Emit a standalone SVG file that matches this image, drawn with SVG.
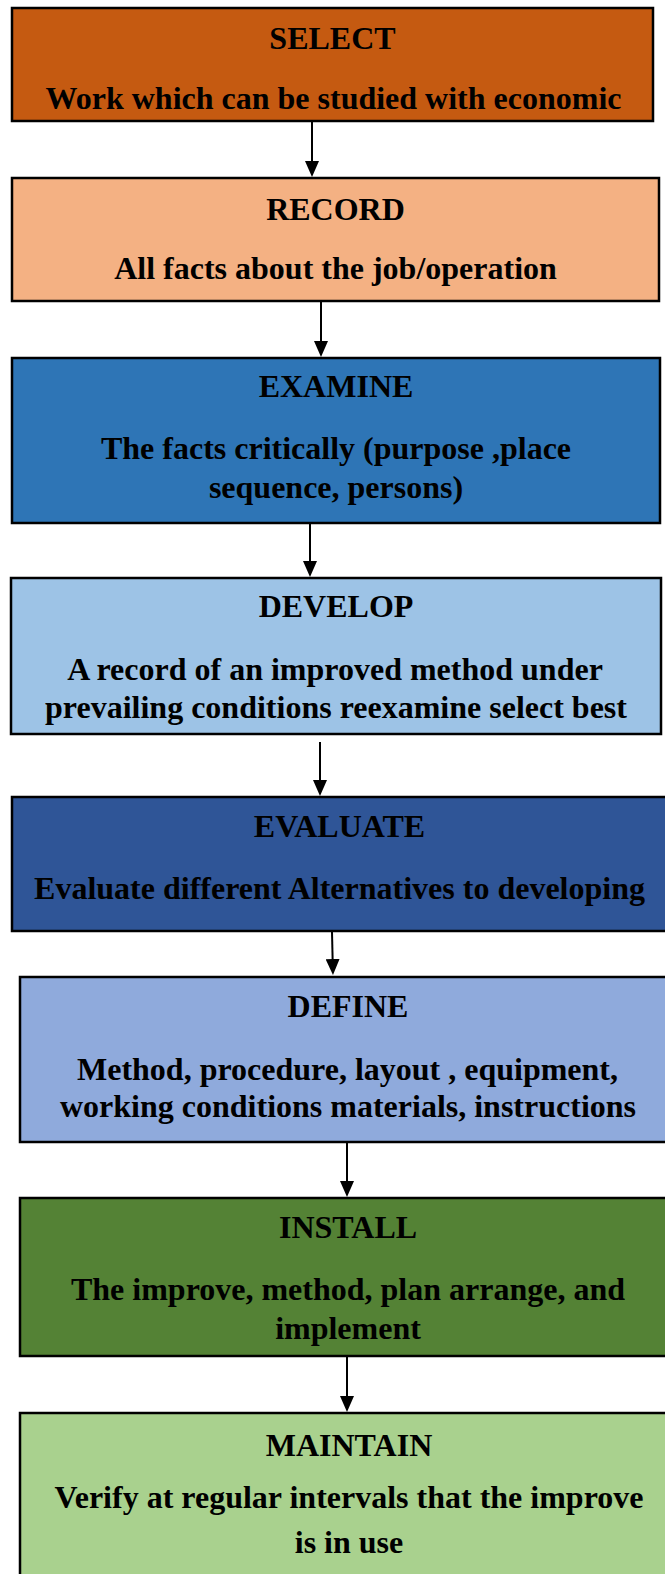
<svg xmlns="http://www.w3.org/2000/svg" width="665" height="1574" viewBox="0 0 665 1574">
<style>
.box{stroke:#000;stroke-width:2.5}
.t{font-family:"Liberation Serif","Times New Roman",serif;font-weight:bold;font-size:32px;fill:#000;text-anchor:middle}
.c{stroke:#000;stroke-width:2;fill:none}
</style>
<defs>
<marker id="ah" viewBox="0 0 16 14" refX="8" refY="7" markerWidth="16" markerHeight="14" markerUnits="userSpaceOnUse" orient="auto">
<path d="M0,0 L16,7 L0,14 z" fill="#000"/>
</marker>
</defs>
<rect width="665" height="1574" fill="#fff"/>
<g id="select">
<rect class="box" x="12" y="8" width="641" height="113" fill="#C55A11"/>
<text class="t" x="332.5" y="49">SELECT</text>
<text class="t" x="333.5" y="109">Work which can be studied with economic</text>
</g>
<g id="record">
<rect class="box" x="12" y="178" width="647" height="123" fill="#F4B183"/>
<text class="t" x="335.5" y="220">RECORD</text>
<text class="t" x="335.5" y="279">All facts about the job/operation</text>
</g>
<g id="examine">
<rect class="box" x="12" y="358" width="648" height="165" fill="#2E75B6"/>
<text class="t" x="336" y="397">EXAMINE</text>
<text class="t" x="336" y="459">The facts critically (purpose ,place</text>
<text class="t" x="336" y="498">sequence, persons)</text>
</g>
<g id="develop">
<rect class="box" x="11" y="578" width="650" height="156" fill="#9DC3E6"/>
<text class="t" x="336" y="617">DEVELOP</text>
<text class="t" x="335" y="680">A record of an improved method under</text>
<text class="t" x="336" y="718">prevailing conditions reexamine select best</text>
</g>
<g id="evaluate">
<rect class="box" x="12" y="797" width="655" height="134" fill="#2F5597"/>
<text class="t" x="339.5" y="837">EVALUATE</text>
<text class="t" x="339.5" y="899">Evaluate different Alternatives to developing</text>
</g>
<g id="define">
<rect class="box" x="20" y="977" width="656" height="165" fill="#8FAADC"/>
<text class="t" x="348" y="1017">DEFINE</text>
<text class="t" x="347.5" y="1080">Method, procedure, layout , equipment,</text>
<text class="t" x="348" y="1117">working conditions materials, instructions</text>
</g>
<g id="install">
<rect class="box" x="20" y="1198" width="656" height="158" fill="#548235"/>
<text class="t" x="348" y="1238">INSTALL</text>
<text class="t" x="348" y="1300">The improve, method, plan arrange, and</text>
<text class="t" x="348" y="1339">implement</text>
</g>
<g id="maintain">
<rect class="box" x="20" y="1413" width="658" height="175" fill="#A9D18E"/>
<text class="t" x="349" y="1456">MAINTAIN</text>
<text class="t" x="349" y="1508">Verify at regular intervals that the improve</text>
<text class="t" x="349" y="1553">is in use</text>
</g>
<g id="connectors">
<line class="c" x1="312" y1="122" x2="312" y2="169" marker-end="url(#ah)"/>
<line class="c" x1="321" y1="302" x2="321" y2="349" marker-end="url(#ah)"/>
<line class="c" x1="310" y1="524" x2="310" y2="569" marker-end="url(#ah)"/>
<line class="c" x1="320" y1="742" x2="320" y2="788" marker-end="url(#ah)"/>
<line class="c" x1="332" y1="932" x2="332.8" y2="967" marker-end="url(#ah)"/>
<line class="c" x1="347" y1="1143" x2="347" y2="1189" marker-end="url(#ah)"/>
<line class="c" x1="347" y1="1357" x2="347" y2="1404" marker-end="url(#ah)"/>
</g>
</svg>
